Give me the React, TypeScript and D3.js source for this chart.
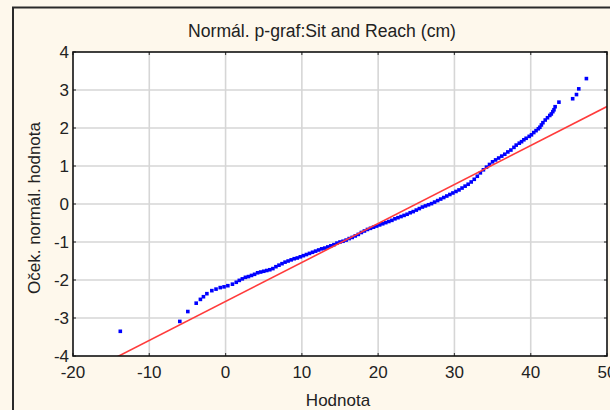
import React from "react";
import * as d3 from "d3";

// Observed values (cm), sorted
const values: number[] = [
  -13.8, -6.0, -4.95, -3.85, -3.3, -2.9, -2.45, -1.8, -1.25, -0.7, -0.2, 0.3, 0.9, 1.4,
  1.8, 2.2, 2.6, 3.0, 3.4, 3.8, 4.2, 4.6, 5.0, 5.4, 5.8, 6.2, 6.6, 7.0, 7.4, 7.8,
  8.2, 8.6, 9.0, 9.4, 9.8, 10.2, 10.6, 11.0, 11.4, 11.8, 12.2, 12.6, 13.0, 13.4, 13.8,
  14.2, 14.6, 15.0, 15.4, 15.8, 16.2, 16.6, 17.0, 17.4, 17.8, 18.2, 18.6, 19.0, 19.4,
  19.8, 20.2, 20.6, 21.0, 21.4, 21.8, 22.2, 22.6, 23.0, 23.4, 23.8, 24.2, 24.6, 25.0,
  25.4, 25.8, 26.2, 26.6, 27.0, 27.4, 27.8, 28.2, 28.6, 29.0, 29.4, 29.8, 30.2, 30.6,
  31.0, 31.4, 31.8, 32.2, 32.6, 33.0, 33.4, 33.8, 34.2, 34.6, 35.0, 35.4, 35.8, 36.2,
  36.6, 37.0, 37.4, 37.8, 38.1, 38.5, 38.8, 39.1, 39.4, 39.8, 40.1, 40.4, 40.7, 41.0,
  41.2, 41.4, 41.6, 41.9, 42.2, 42.5, 42.7, 42.9, 43.05, 43.2, 43.7, 45.5, 46.0, 46.3, 47.3,
];

// Expected normal values for each observation
const expected: number[] = [
  -3.35, -3.09, -2.83, -2.61, -2.51, -2.44, -2.36, -2.28, -2.24, -2.2, -2.18, -2.15, -2.11, -2.06,
  -2.01, -1.97, -1.93, -1.91, -1.88, -1.85, -1.81, -1.79, -1.77, -1.75, -1.73, -1.7, -1.65, -1.61, -1.57, -1.53,
  -1.5, -1.47, -1.44, -1.42, -1.39, -1.36, -1.33, -1.3, -1.27, -1.24, -1.21, -1.18, -1.16, -1.13, -1.1,
  -1.07, -1.03, -1.0, -0.98, -0.95, -0.91, -0.88, -0.84, -0.8, -0.75, -0.71, -0.67, -0.64, -0.61,
  -0.58, -0.55, -0.52, -0.49, -0.46, -0.43, -0.39, -0.36, -0.33, -0.3, -0.27, -0.23, -0.2, -0.16,
  -0.12, -0.08, -0.05, -0.02, 0.01, 0.05, 0.09, 0.13, 0.17, 0.21, 0.25, 0.29, 0.33, 0.37,
  0.42, 0.47, 0.52, 0.58, 0.65, 0.73, 0.82, 0.9, 0.97, 1.04, 1.11, 1.16, 1.21, 1.26,
  1.31, 1.37, 1.42, 1.49, 1.55, 1.6, 1.64, 1.69, 1.73, 1.78, 1.82, 1.88, 1.93, 1.98,
  2.02, 2.08, 2.14, 2.21, 2.27, 2.33, 2.37, 2.43, 2.48, 2.56, 2.68, 2.77, 2.88, 3.03, 3.3,
];

// Reference normal line parameters
const lineMean = 25.0;
const lineSd = 9.75;

const xTicks: number[] = [-20, -10, 0, 10, 20, 30, 40, 50];
const yTicks: number[] = [-4, -3, -2, -1, 0, 1, 2, 3, 4];

const title = "Normál. p-graf:Sit and Reach (cm)";
const xLabel = "Hodnota";
const yLabel = "Oček. normál. hodnota";

export default function App() {
  const W = 610;
  const H = 410;
  const left = 73;
  const right = 607;
  const top = 52;
  const bottom = 356;

  const x = d3.scaleLinear().domain([-20, 50]).range([left, right]);
  const y = d3.scaleLinear().domain([-4, 4]).range([bottom, top]);

  const font = "'Liberation Sans', Arial, sans-serif";
  const pts = values.map((v, i) => ({ v, e: expected[i] }));

  const lineData: [number, number][] = [-20, 50].map((v) => [v, (v - lineMean) / lineSd]);
  const lineGen = d3
    .line<[number, number]>()
    .x((d) => x(d[0]))
    .y((d) => y(d[1]));

  const ms = 3.6;

  return (
    <svg
      width={W}
      height={H}
      style={{ position: "absolute", left: 0, top: 0, background: "#FEF8EC" }}
    >
      <defs>
        <clipPath id="plotClip">
          <rect x={left} y={top} width={right - left} height={bottom - top} />
        </clipPath>
      </defs>
      <rect x={0} y={0} width={W} height={H} fill="#FEF8EC" />
      {/* outer frame */}
      <rect x={13} y={7.5} width={W + 10} height={H + 10} fill="none" stroke="#2a2a2a" strokeWidth={2} />

      {/* title */}
      <text x={322} y={37} textAnchor="middle" fontFamily={font} fontSize={17.6} fill="#222">
        {title}
      </text>

      {/* plot area */}
      <rect x={left} y={top} width={right - left} height={bottom - top} fill="#FFFFFF" />

      {/* grid */}
      <g stroke="#D6D6D6" strokeWidth={1.6}>
        {xTicks.slice(1, -1).map((t) => (
          <line key={"gx" + t} x1={x(t)} x2={x(t)} y1={top} y2={bottom} />
        ))}
        {yTicks.slice(1, -1).map((t) => (
          <line key={"gy" + t} x1={left} x2={right} y1={y(t)} y2={y(t)} />
        ))}
      </g>

      {/* inner ticks */}
      <g stroke="#444" strokeWidth={1.2}>
        {yTicks.map((t) => (
          <g key={"ty" + t}>
            <line x1={left} x2={left + 3} y1={y(t)} y2={y(t)} />
            <line x1={right - 3} x2={right} y1={y(t)} y2={y(t)} />
          </g>
        ))}
        {xTicks.map((t) => (
          <g key={"tx" + t}>
            <line x1={x(t)} x2={x(t)} y1={bottom} y2={bottom - 3} />
            <line x1={x(t)} x2={x(t)} y1={top} y2={top + 3} />
          </g>
        ))}
      </g>

      {/* points and reference line */}
      <g clipPath="url(#plotClip)">
        {pts.map((p, i) => (
          <rect
            key={i}
            x={x(p.v) - ms / 2}
            y={y(p.e) - ms / 2}
            width={ms}
            height={ms}
            fill="#0000FF"
          />
        ))}
        <path d={lineGen(lineData) || ""} stroke="#FF3B3B" strokeWidth={1.6} fill="none" />
      </g>

      {/* plot border */}
      <rect
        x={left}
        y={top}
        width={right - left}
        height={bottom - top}
        fill="none"
        stroke="#111"
        strokeWidth={1.6}
      />

      {/* y tick labels */}
      {yTicks.map((t) => (
        <text
          key={"yl" + t}
          x={69}
          y={y(t) + 6}
          textAnchor="end"
          fontFamily={font}
          fontSize={17}
          fill="#222"
        >
          {t}
        </text>
      ))}

      {/* x tick labels */}
      {xTicks.map((t) => (
        <text
          key={"xl" + t}
          x={x(t)}
          y={378}
          textAnchor="middle"
          fontFamily={font}
          fontSize={17}
          fill="#222"
        >
          {t}
        </text>
      ))}

      {/* axis labels */}
      <text x={338} y={406} textAnchor="middle" fontFamily={font} fontSize={17} fill="#222">
        {xLabel}
      </text>
      <text
        transform={`translate(40,208) rotate(-90)`}
        textAnchor="middle"
        fontFamily={font}
        fontSize={17}
        fill="#222"
      >
        {yLabel}
      </text>
    </svg>
  );
}
